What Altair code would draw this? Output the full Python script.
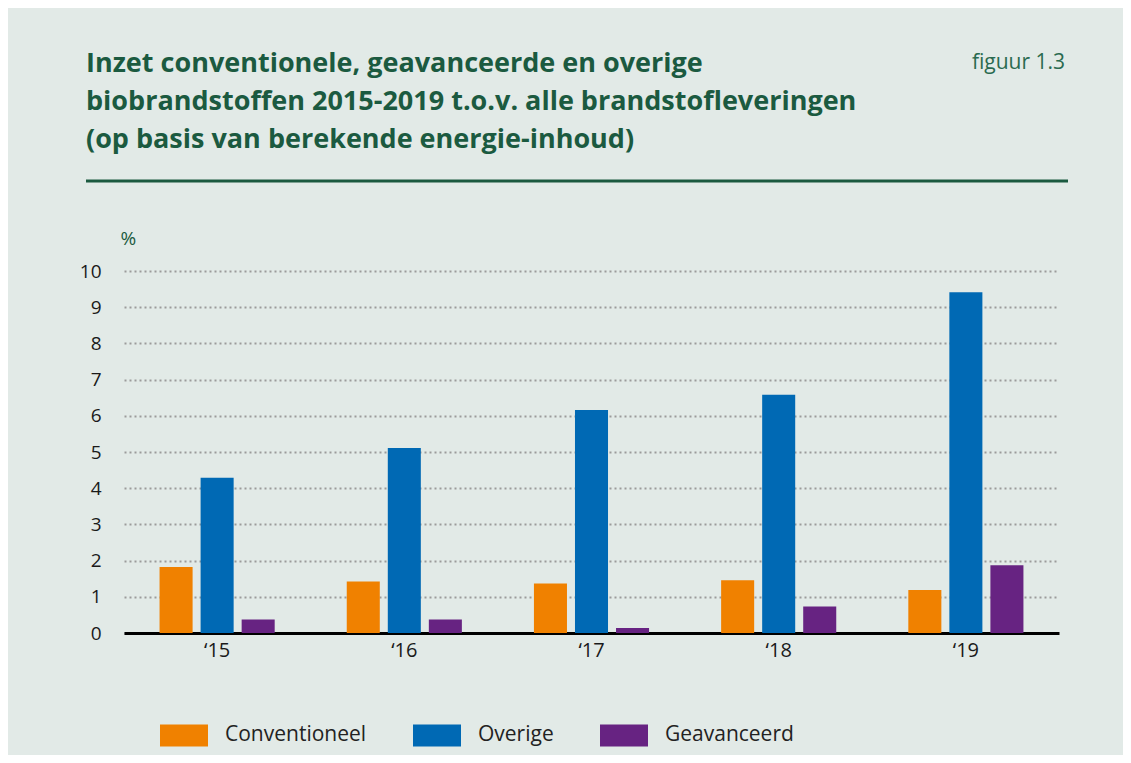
import altair as alt
import pandas as pd

years = ["\u201815", "\u201816", "\u201817", "\u201818", "\u201819"]
series = ["Conventioneel", "Overige", "Geavanceerd"]
conventioneel = [1.82, 1.42, 1.37, 1.46, 1.19]
overige = [4.29, 5.11, 6.16, 6.58, 9.41]
geavanceerd = [0.37, 0.37, 0.14, 0.73, 1.87]
colors = ["#f08100", "#0069b4", "#672382"]
y_ticks = list(range(0, 11))

title_lines = [
    "Inzet conventionele, geavanceerde en overige",
    "biobrandstoffen 2015-2019 t.o.v. alle brandstofleveringen",
    "(op basis van berekende energie-inhoud)",
]
fig_label = "figuur 1.3"

rows = []
for i, y in enumerate(years):
    for s, vals in zip(series, [conventioneel, overige, geavanceerd]):
        rows.append({"jaar": y, "reeks": s, "waarde": vals[i]})
df = pd.DataFrame(rows)

GREEN = "#1b5a40"
BG = "#e2eae7"
W, H = 935, 362

bars = alt.Chart(df).mark_bar().encode(
    x=alt.X("jaar:N", sort=years, title=None,
            scale=alt.Scale(paddingInner=0.385, paddingOuter=0.19),
            axis=alt.Axis(labelAngle=0, ticks=False, domainColor="#000000",
                          domainWidth=3, labelFontSize=20, labelPadding=7,
                          labelColor="#1a1a1a", labelFont="Open Sans", grid=False)),
    xOffset=alt.XOffset("reeks:N", sort=series,
                        scale=alt.Scale(paddingInner=0.195, paddingOuter=0)),
    y=alt.Y("waarde:Q", scale=alt.Scale(domain=[0, 10], nice=False),
            axis=alt.Axis(values=y_ticks, title="%", titleAngle=0, titleAlign="left",
                          titleBaseline="middle", titleX=-4, titleY=-33,
                          titleColor=GREEN, titleFontSize=19, titleFontWeight="normal",
                          titleFont="Open Sans",
                          domain=False, ticks=False, labelFontSize=19,
                          labelPadding=23, labelColor="#1a1a1a", labelFont="Open Sans",
                          grid=True, gridColor="#9b9b9b", gridDash=[2, 3], gridWidth=2)),
    color=alt.Color("reeks:N", sort=series,
                    scale=alt.Scale(domain=series, range=colors),
                    legend=alt.Legend(orient="none", legendX=36, legendY=440,
                                      direction="horizontal", title=None,
                                      symbolType="M-1,-0.46H1V0.46H-1Z",
                                      symbolSize=2304, symbolStrokeWidth=0,
                                      symbolOpacity=1,
                                      labelFontSize=21, labelColor="#222222",
                                      labelFont="Open Sans", labelOffset=17,
                                      columnPadding=46)),
)

one = alt.Data(values=[{}])

title_text = alt.Chart(one).mark_text(
    align="left", baseline="alphabetic", fontSize=27, fontWeight="bold",
    font="Open Sans", color=GREEN, lineHeight=38
).encode(x=alt.value(-38), y=alt.value(72 - 271), text=alt.value(title_lines))

fig_text = alt.Chart(one).mark_text(
    align="right", baseline="alphabetic", fontSize=21, font="Open Sans",
    color="#2a6a50"
).encode(x=alt.value(941), y=alt.value(69 - 271), text=alt.value(fig_label))

rule = alt.Chart(one).mark_rule(color=GREEN, strokeWidth=3).encode(
    x=alt.value(-38), x2=alt.value(944), y=alt.value(181 - 271)
)

chart = alt.layer(bars, title_text, fig_text, rule).properties(
    width=W, height=H,
    autosize=alt.AutoSizeParams(type="none"),
    padding={"left": 116, "top": 263, "right": 64, "bottom": 122},
    background=BG,
).configure_view(stroke=None)

chart.save("out.html", embed_options={"renderer": "svg", "actions": False})
